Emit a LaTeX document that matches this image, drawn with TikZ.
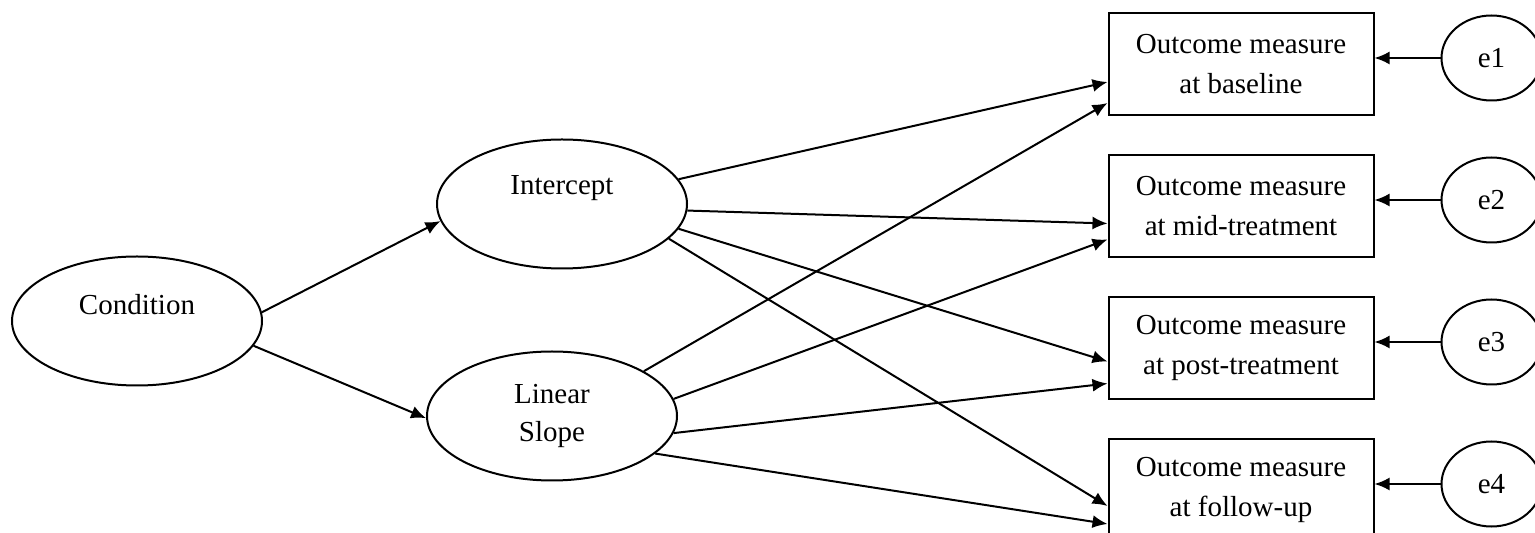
\documentclass[tikz,border=0pt]{standalone}
\usepackage{fontspec}
\setmainfont{Liberation Serif}
\usetikzlibrary{positioning,shapes,arrows.meta}

\newcommand{\lifted}[1]{\raisebox{8pt}[\height][\depth]{#1}}

\begin{document}
\begin{tikzpicture}[>={Latex[length=7.5pt,width=6.5pt]}, x=0.5pt, y=-0.5pt, line width=1pt]

    \useasboundingbox (0,0) rectangle (1535,533);
    \clip (0,0) rectangle (1535,533);

    %
    % Styles for variables, and paths
    %
    \tikzstyle{latent} = [draw, ellipse, minimum width=125pt, minimum height=64.5pt, align=center,
                          font={\fontsize{14.5}{19}\selectfont}];
    \tikzstyle{measure} = [draw, rectangle, minimum width=132.5pt, minimum height=51pt, align=center,
                           font={\fontsize{14.5}{20}\selectfont}, node distance=19pt];
    \tikzstyle{residual} = [latent, minimum width=50pt, minimum height=42.5pt, node distance=33pt];
    \tikzstyle{regression} = [black, ->];

    %
    % Position variables
    %
    \node[latent, name=condition] at (137,321) {\lifted{Condition}};
    \node[latent, name=intercept] at (562,204) {\lifted{Intercept}};
    \node[latent, name=slope] at (552,416) {Linear\\Slope};

    \node[measure, name=baseline] at (1241,64) {Outcome measure\\at baseline};
    \node[measure, name=mid, below=of baseline] {Outcome measure\\at mid-treatment};
    \node[measure, name=post, below=of mid] {Outcome measure\\at post-treatment};
    \node[measure, name=follow, below=of post] {Outcome measure\\at follow-up};

    \node[residual, name=e1, right=of baseline, yshift=3pt] {e1};
    \node[residual, name=e2, right=of mid, yshift=3pt] {e2};
    \node[residual, name=e3, right=of post, yshift=3pt] {e3};
    \node[residual, name=e4, right=of follow, yshift=3pt] {e4};

    %
    % Connect variables via paths
    %
    \draw (condition.4) edge[regression] (intercept.188);
    \draw (condition.-12) edge[regression] (slope.181);

    \draw (intercept.12) edge[regression] ([yshift=-9pt]baseline.west);
    \draw (intercept.-3) edge[regression] ([yshift=-8.75pt]mid.west);
    \draw (intercept.-12) edge[regression] ([yshift=-6.75pt]post.west);
    \draw (intercept.-18) edge[regression] ([yshift=-8pt]follow.west);

    \draw (slope.26) edge[regression] ([yshift=-19.5pt]baseline.west);
    \draw (slope.8) edge[regression] ([yshift=-16.75pt]mid.west);
    \draw (slope.-8) edge[regression] ([yshift=-17.75pt]post.west);
    \draw (slope.-20) edge[regression] ([yshift=-17pt]follow.west);

    \draw (e1) edge[regression] (e1 -| baseline.east);
    \draw (e2) edge[regression] (e2 -| mid.east);
    \draw (e3) edge[regression] (e3 -| post.east);
    \draw (e4) edge[regression] (e4 -| follow.east);
  \end{tikzpicture}
\end{document}
